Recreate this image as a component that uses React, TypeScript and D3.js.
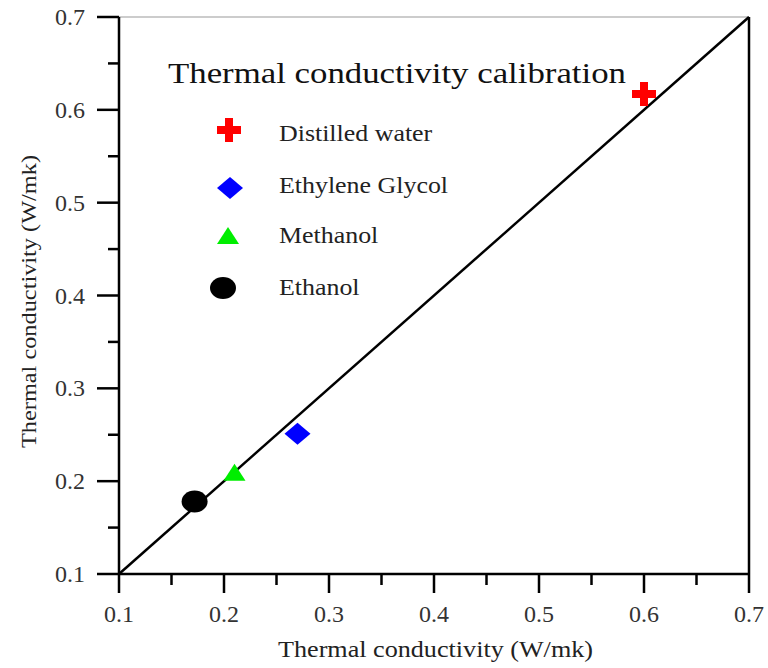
import React from "react";
import * as d3 from "d3";

const names = ["Distilled water", "Ethylene Glycol", "Methanol", "Ethanol"];
const xVals = [0.6, 0.27, 0.21, 0.172];
const yVals = [0.617, 0.251, 0.208, 0.178];
const colors = ["#ff0000", "#0000ff", "#00ee00", "#000000"];
const shapes = ["cross", "diamond", "triangle", "circle"];
const ticks = [0.1, 0.2, 0.3, 0.4, 0.5, 0.6, 0.7];
const minorTicks = [0.15, 0.25, 0.35, 0.45, 0.55, 0.65];
const titleText = "Thermal conductivity calibration";
const axisTitle = "Thermal conductivity (W/mk)";

const FONT = "'Liberation Serif', 'Times New Roman', serif";

function Marker({ shape, color, x, y }: { shape: string; color: string; x: number; y: number }) {
  if (shape === "cross") {
    const a = 12, t = 4;
    const d = `M${-t},${-a}H${t}V${-t}H${a}V${t}H${t}V${a}H${-t}V${t}H${-a}V${-t}H${-t}Z`;
    return <path d={d} transform={`translate(${x},${y})`} fill={color} />;
  }
  if (shape === "diamond") {
    return <path d="M0,-11L13,0L0,11L-13,0Z" transform={`translate(${x},${y})`} fill={color} />;
  }
  if (shape === "triangle") {
    return <path d="M0,-10L11,7L-11,7Z" transform={`translate(${x},${y})`} fill={color} />;
  }
  return <ellipse cx={x} cy={y} rx={13} ry={11} fill={color} />;
}

export default function App() {
  const W = 768, H = 668;
  const x = d3.scaleLinear().domain([0.1, 0.7]).range([119, 749]);
  const y = d3.scaleLinear().domain([0.1, 0.7]).range([574, 17]);
  const legendY = [130, 188, 237, 288];
  const legendX = [229, 230, 228, 223];
  const legendBase = [141, 193, 243, 295];
  return (
    <svg width={W} height={H} style={{ position: "absolute", left: 0, top: 0, background: "#fff" }}>
      {/* frame */}
      <line x1={x(0.1)} x2={x(0.7)} y1={y(0.7)} y2={y(0.7)} stroke="#999" strokeWidth={1.2} />
      <line x1={x(0.7)} x2={x(0.7)} y1={y(0.7)} y2={y(0.1)} stroke="#000" strokeWidth={2.5} />
      <line x1={x(0.1)} x2={x(0.7)} y1={y(0.1)} y2={y(0.1)} stroke="#000" strokeWidth={2.5} />
      <line x1={x(0.1)} x2={x(0.1)} y1={y(0.7)} y2={y(0.1)} stroke="#000" strokeWidth={2.5} />
      {/* x ticks */}
      {ticks.map((t) => (
        <g key={"xt" + t}>
          <line x1={x(t)} x2={x(t)} y1={y(0.1)} y2={y(0.1) + 19} stroke="#000" strokeWidth={2.5} />
          <text x={x(t)} y={y(0.1) + 48} textAnchor="middle" fontFamily={FONT} fontSize={24} fill="#333"
            textLength={30} lengthAdjust="spacingAndGlyphs">
            {t.toFixed(1)}
          </text>
        </g>
      ))}
      {minorTicks.map((t) => (
        <line key={"xm" + t} x1={x(t)} x2={x(t)} y1={y(0.1)} y2={y(0.1) + 11} stroke="#000" strokeWidth={2.5} />
      ))}
      {/* y ticks */}
      {ticks.map((t) => (
        <g key={"yt" + t}>
          <line x1={x(0.1) - 22} x2={x(0.1)} y1={y(t)} y2={y(t)} stroke="#000" strokeWidth={2.5} />
          <text x={85} y={y(t) + 8} textAnchor="end" fontFamily={FONT} fontSize={24} fill="#333"
            textLength={30} lengthAdjust="spacingAndGlyphs">
            {t.toFixed(1)}
          </text>
        </g>
      ))}
      {minorTicks.map((t) => (
        <line key={"ym" + t} x1={x(0.1) - 11} x2={x(0.1)} y1={y(t)} y2={y(t)} stroke="#000" strokeWidth={2.5} />
      ))}
      {/* diagonal */}
      <line x1={x(0.1)} y1={y(0.1)} x2={x(0.7)} y2={y(0.7)} stroke="#000" strokeWidth={2.5} />
      {/* axis titles */}
      <text x={278} y={657} fontFamily={FONT} fontSize={23} fill="#222"
        textLength={315} lengthAdjust="spacingAndGlyphs">{axisTitle}</text>
      <text transform={`translate(36,448) rotate(-90)`} fontFamily={FONT} fontSize={22} fill="#222"
        textLength={293} lengthAdjust="spacingAndGlyphs">{axisTitle}</text>
      {/* points */}
      {names.map((n, i) => (
        <Marker key={n} shape={shapes[i]} color={colors[i]} x={x(xVals[i])} y={y(yVals[i])} />
      ))}
      {/* legend */}
      <text x={168} y={83} fontFamily={FONT} fontSize={30} fill="#111"
        textLength={458} lengthAdjust="spacingAndGlyphs">{titleText}</text>
      {names.map((n, i) => (
        <g key={"lg" + n}>
          <Marker shape={shapes[i]} color={colors[i]} x={legendX[i]} y={legendY[i]} />
          <text x={279} y={legendBase[i]} fontFamily={FONT} fontSize={24} fill="#222"
            transform={`translate(279,0) scale(1.08,1) translate(-279,0)`}>{n}</text>
        </g>
      ))}
    </svg>
  );
}
